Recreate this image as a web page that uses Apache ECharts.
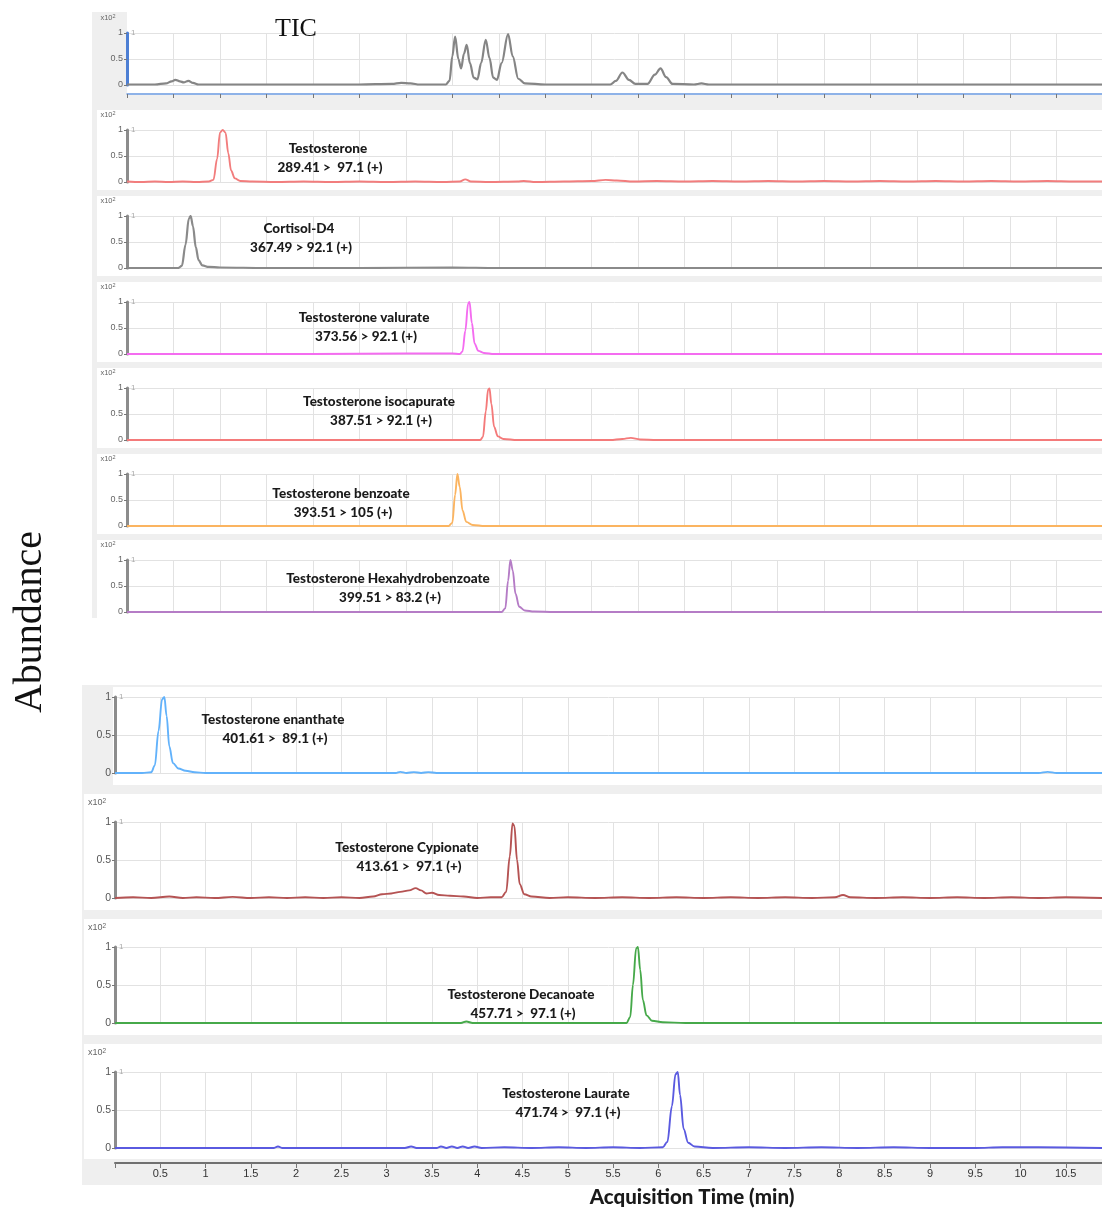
<!DOCTYPE html>
<html>
<head>
<meta charset="utf-8">
<script src="https://cdn.jsdelivr.net/npm/echarts@6/dist/echarts.min.js"></script>
<style>
html,body{margin:0;padding:0;background:#fff;}
#chart{width:1102px;height:1209px;}
</style>
</head>
<body>
<div id="chart"></div>
<script>
// ---------- DATA (time in min, abundance x10^2) ----------
const ticData = [[0,0.01],[0.3,0.01],[0.42,0.03],[0.48,0.07],[0.52,0.10],[0.57,0.07],[0.61,0.05],[0.66,0.08],[0.71,0.04],[0.77,0.01],[1.5,0.01],[2.5,0.01],[2.85,0.02],[2.95,0.04],[3.05,0.03],[3.15,0.01],[3.43,0.01],[3.47,0.08],[3.50,0.55],[3.53,0.93],[3.565,0.5],[3.595,0.32],[3.625,0.6],[3.655,0.77],[3.69,0.42],[3.73,0.14],[3.77,0.11],[3.81,0.42],[3.86,0.87],[3.90,0.52],[3.94,0.14],[3.98,0.10],[4.03,0.42],[4.10,0.98],[4.15,0.55],[4.21,0.12],[4.28,0.03],[4.5,0.01],[5.2,0.01],[5.26,0.08],[5.33,0.24],[5.40,0.10],[5.47,0.02],[5.6,0.02],[5.68,0.2],[5.74,0.32],[5.80,0.15],[5.87,0.02],[6.1,0.01],[6.18,0.03],[6.26,0.01],[8,0.01],[10.49,0.01]];
const testosteroneData = [[0,0.01],[0.15,0.0],[0.3,0.01],[0.45,0.0],[0.6,0.01],[0.75,0.0],[0.88,0.01],[0.93,0.04],[0.97,0.45],[1.00,0.95],[1.03,1.0],[1.06,0.95],[1.09,0.55],[1.12,0.22],[1.16,0.07],[1.22,0.02],[1.35,0.01],[1.6,0.0],[1.9,0.01],[2.2,0.0],[2.5,0.01],[2.8,0.0],[3.1,0.01],[3.4,0.0],[3.58,0.01],[3.64,0.05],[3.70,0.01],[3.9,0.0],[4.2,0.01],[4.27,0.02],[4.4,0.0],[4.7,0.01],[5.0,0.02],[5.15,0.04],[5.27,0.03],[5.45,0.01],[5.7,0.02],[6.0,0.01],[6.3,0.02],[6.6,0.01],[6.9,0.02],[7.2,0.01],[7.5,0.02],[7.8,0.01],[8.1,0.02],[8.4,0.01],[8.7,0.02],[9.0,0.01],[9.3,0.02],[9.6,0.01],[9.9,0.02],[10.2,0.01],[10.49,0.01]];
const cortisolData = [[0,0.0],[0.3,0.0],[0.55,0.0],[0.59,0.04],[0.63,0.45],[0.665,0.95],[0.685,1.0],[0.71,0.8],[0.74,0.4],[0.77,0.15],[0.81,0.05],[0.88,0.02],[1.0,0.01],[1.5,0.0],[2.5,0.0],[3.5,0.01],[4.0,0.0],[6.0,0.0],[8.0,0.0],[10.49,0.0]];
const valurateData = [[0,0],[2.0,0],[3.0,0.01],[3.5,0.01],[3.58,0.0],[3.61,0.05],[3.64,0.45],[3.67,0.97],[3.685,1.0],[3.71,0.6],[3.74,0.2],[3.78,0.06],[3.84,0.02],[3.95,0.0],[5,0],[7,0],[10.49,0]];
const isocapurateData = [[0,0],[2,0],[3.5,0],[3.80,0.0],[3.83,0.06],[3.86,0.55],[3.885,0.97],[3.90,0.99],[3.92,0.7],[3.95,0.25],[3.99,0.07],[4.05,0.02],[4.2,0.0],[5.2,0.0],[5.33,0.02],[5.42,0.04],[5.52,0.01],[5.7,0],[8,0],[10.49,0]];
const benzoateData = [[0,0],[3.0,0],[3.46,0.0],[3.50,0.06],[3.53,0.6],[3.555,1.0],[3.58,0.75],[3.61,0.3],[3.65,0.08],[3.72,0.02],[3.85,0.0],[10.49,0]];
const hexahydroData = [[0,0],[3,0],[4.03,0.0],[4.07,0.07],[4.10,0.6],[4.125,1.0],[4.15,0.8],[4.18,0.35],[4.22,0.1],[4.28,0.03],[4.38,0.01],[4.6,0],[10.49,0]];
const enanthateData = [[0,0],[0.3,0],[0.40,0.01],[0.44,0.1],[0.48,0.55],[0.52,0.97],[0.545,1.0],[0.57,0.75],[0.60,0.35],[0.64,0.13],[0.70,0.06],[0.78,0.03],[0.88,0.01],[1.0,0],[2.0,0],[3.1,0.0],[3.15,0.015],[3.22,0.0],[3.3,0.012],[3.38,0.0],[3.46,0.012],[3.55,0.0],[4.5,0],[6,0],[8,0],[10.2,0.0],[10.3,0.015],[10.4,0.0],[10.9,0]];
const cypionateData = [[0,0.0],[0.2,0.01],[0.4,0.0],[0.6,0.02],[0.75,0.0],[0.9,0.01],[1.1,0.0],[1.3,0.015],[1.5,0.0],[1.7,0.01],[1.9,0.0],[2.1,0.01],[2.3,0.0],[2.5,0.01],[2.7,0.0],[2.85,0.02],[2.95,0.05],[3.05,0.06],[3.15,0.08],[3.25,0.10],[3.32,0.13],[3.38,0.1],[3.44,0.06],[3.5,0.07],[3.58,0.04],[3.7,0.03],[3.85,0.02],[4.0,0.0],[4.15,0.01],[4.27,0.01],[4.32,0.08],[4.36,0.55],[4.39,0.98],[4.41,0.95],[4.44,0.5],[4.47,0.18],[4.52,0.05],[4.6,0.02],[4.8,0.0],[5.0,0.01],[5.3,0.0],[5.6,0.01],[5.9,0.0],[6.2,0.01],[6.5,0.0],[6.8,0.01],[7.1,0.0],[7.4,0.01],[7.7,0.0],[7.95,0.01],[8.04,0.04],[8.12,0.01],[8.4,0.0],[8.7,0.01],[9.0,0.0],[9.3,0.01],[9.6,0.0],[9.9,0.01],[10.2,0.0],[10.5,0.01],[10.9,0.0]];
const decanoateData = [[0,0],[3.0,0],[3.82,0.0],[3.88,0.02],[3.95,0.0],[5.0,0],[5.65,0.0],[5.69,0.08],[5.72,0.5],[5.755,0.98],[5.775,1.0],[5.80,0.7],[5.83,0.3],[5.87,0.1],[5.93,0.03],[6.05,0.01],[6.3,0],[10.9,0]];
const laurateData = [[0,0],[1.0,0],[1.75,0.0],[1.8,0.02],[1.85,0.0],[3.2,0.0],[3.27,0.02],[3.33,0.0],[3.55,0.0],[3.6,0.02],[3.66,0.0],[3.72,0.02],[3.78,0.0],[3.84,0.02],[3.9,0.0],[3.97,0.02],[4.05,0.0],[4.3,0.01],[4.6,0.0],[4.9,0.01],[5.2,0.0],[5.5,0.01],[5.8,0.0],[6.05,0.01],[6.10,0.08],[6.15,0.55],[6.19,0.97],[6.215,1.0],[6.24,0.7],[6.28,0.25],[6.33,0.07],[6.4,0.02],[6.6,0.0],[7.0,0.01],[7.4,0.0],[7.8,0.01],[8.2,0.0],[8.6,0.01],[9.0,0.0],[9.5,0.0],[9.8,0.01],[10.2,0.01],[10.9,0.0]];

const compoundNames = ['TIC','Testosterone','Cortisol-D4','Testosterone valurate','Testosterone isocapurate','Testosterone benzoate','Testosterone Hexahydrobenzoate','Testosterone enanthate','Testosterone Cypionate','Testosterone Decanoate','Testosterone Laurate'];
const transitions = ['','289.41 >  97.1 (+)','367.49 > 92.1 (+)','373.56 > 92.1 (+)','387.51 > 92.1 (+)','393.51 > 105 (+)','399.51 > 83.2 (+)','401.61 >  89.1 (+)','413.61 >  97.1 (+)','457.71 >  97.1 (+)','471.74 >  97.1 (+)'];
const seriesData = [ticData,testosteroneData,cortisolData,valurateData,isocapurateData,benzoateData,hexahydroData,enanthateData,cypionateData,decanoateData,laurateData];
const yTicks = [0, 0.5, 1];
const xTickStep = 0.5;
const xAxisTitle = 'Acquisition Time (min)';
const yAxisTitle = 'Abundance';

// ---------- LAYOUT / STYLE ----------
const colors = ['#858585','#f27d7d','#8a8a8a','#f46cf0','#f47a7a','#fbb460','#b57cc6','#62b2fb','#b55353','#46a94a','#5a5ae0'];
const panelTop = [33,130,216,302,388,474,560,697,822,947,1072];
const labelPos = [[296,29],[328,149],[299,229],[364,318],[379,402],[341,494],[388,579],[273,720],[407,848],[521,995],[566,1094]];
const TOP_N = 7;
const topMax = 10.49, botMax = 10.9;
const narrow = '"Liberation Sans Narrow","Liberation Sans",Arial,sans-serif';
const boldFont = 'Lato,"Open Sans",sans-serif';

const grids=[], xAxes=[], yAxes=[], series=[], graphics=[];

// backgrounds
graphics.push({type:'rect', z:-20, silent:true, shape:{x:92,y:12,width:1010,height:606}, style:{fill:'#efefef'}});
graphics.push({type:'rect', z:-20, silent:true, shape:{x:82,y:685,width:1020,height:500}, style:{fill:'#efefef'}});

for (let i=0;i<seriesData.length;i++){
  const top = i < TOP_N;
  const y1 = panelTop[i];
  const h = top ? 52 : 76;
  const left = top ? 127 : 115;
  const isLast = i === seriesData.length-1;
  grids.push({left:left, right:0, top:y1, height:h, containLabel:false});
  // white panel
  let wx = top ? 97 : 84, wy, wh;
  if (top) { if (i===0){ wx=127; wy=12; wh=81; } else { wy=y1-20; wh=h+28; } }
  else { if (i===TOP_N){ wx=113; wy=y1-10; wh=h+22; } else { wy=y1-28; wh = h+40; } }
  if (isLast) wh = (y1+h+11) - wy;
  graphics.push({type:'rect', z:-15, silent:true, shape:{x:wx,y:wy,width:1102-wx,height:wh}, style:{fill:'#ffffff'}});

  xAxes.push({
    gridIndex:i, type:'value', min:0, max: top?topMax:botMax, interval:xTickStep,
    offset: i===0 ? 9 : (isLast ? 15 : 0),
    axisLine:{show: i===0 || isLast, onZero:false, lineStyle:{color: i===0 ? '#6f9fe6' : '#707070', width: i===0 ? 1.5 : 2}},
    axisTick:{show: i===0 || isLast, length: i===0 ? 4 : 5, lineStyle:{color:'#777'}},
    axisLabel:{show:isLast, fontSize:11, color:'#333', fontFamily:narrow, margin:5, showMaxLabel:false,
      formatter: v => (v>0 && Math.abs(v/xTickStep - Math.round(v/xTickStep))<1e-6) ? String(+v.toFixed(1)) : ''},
    splitLine:{show:true, lineStyle:{color:'#e2e2e2', width:1}}
  });
  yAxes.push({
    gridIndex:i, type:'value', min:yTicks[0], max:yTicks[2], interval:0.5,
    axisLine:{show:true, onZero:false, lineStyle:{color: i===0 ? '#4d7fd4' : '#8c8c8c', width:3}},
    axisTick:{show:true, length:3, lineStyle:{color:'#777'}},
    axisLabel:{fontSize: top?9:10.5, color: top?'#666':'#555', margin:4, fontFamily:'"Liberation Sans",Arial,sans-serif',
      formatter: v => String(v)},
    splitLine:{show:true, lineStyle:{color:'#e2e2e2', width:1}}
  });
  series.push({
    type:'line', name:compoundNames[i], xAxisIndex:i, yAxisIndex:i, data:seriesData[i],
    showSymbol:false, smooth:0.35, smoothMonotone:'x', z:3,
    lineStyle:{color:colors[i], width: (i===0||i===2) ? 2.2 : 1.9}
  });

  // x10^2 label (not on the enanthate panel)
  if (i !== TOP_N) {
    const lx = top ? 108 : 97;
    graphics.push({type:'text', z:50, silent:true, x:lx, y:y1 - (top?15:19),
      style:{text:'{a|x10}{b|2}', align:'center', verticalAlign:'middle', textAlign:'center', textVerticalAlign:'middle',
        rich:{a:{fontSize: top?7.5:9, fill:'#666', fontFamily:narrow}, b:{fontSize: top?5.5:6.5, fill:'#666', verticalAlign:'top', padding:[0,0,4,0]}}}});
  }
  // small "1" right of axis
  graphics.push({type:'text', z:50, silent:true, x:left+4, y:y1,
    style:{text:'1', fontSize:8, fill:'#aaa', align:'left', verticalAlign:'middle', textAlign:'left', textVerticalAlign:'middle', fontFamily:narrow}});

  // compound labels
  const [cx, cy] = labelPos[i];
  if (i===0){
    graphics.push({type:'text', z:50, silent:true, x:cx, y:cy,
      style:{text:compoundNames[i], font:'26px "Liberation Serif","DejaVu Serif",serif', fill:'#111', align:'center', verticalAlign:'middle', textAlign:'center', textVerticalAlign:'middle'}});
  } else {
    graphics.push({type:'text', z:50, silent:true, x:cx, y:cy,
      style:{text:compoundNames[i], fontFamily:boldFont, fontWeight:900, fontSize:13.5, fill:'#1a1a1a', align:'center', verticalAlign:'middle', textAlign:'center', textVerticalAlign:'middle'}});
    graphics.push({type:'text', z:50, silent:true, x:cx+2, y:cy+19,
      style:{text:transitions[i], fontFamily:boldFont, fontWeight:900, fontSize:13.5, fill:'#1a1a1a', align:'center', verticalAlign:'middle', textAlign:'center', textVerticalAlign:'middle'}});
  }
}

// axis titles
graphics.push({type:'text', z:50, silent:true, x:692, y:1197,
  style:{text:xAxisTitle, fontFamily:boldFont, fontWeight:900, fontSize:20.5, fill:'#1a1a1a', align:'center', verticalAlign:'middle', textAlign:'center', textVerticalAlign:'middle'}});
graphics.push({type:'text', z:50, silent:true, x:30, y:622, rotation:Math.PI/2,
  style:{text:yAxisTitle, font:'40px "Liberation Serif","DejaVu Serif",serif', fill:'#111', align:'center', verticalAlign:'middle', textAlign:'center', textVerticalAlign:'middle'}});

const chart = echarts.init(document.getElementById('chart'), null, {renderer:'canvas'});
chart.setOption({
  animation:false,
  backgroundColor:'#ffffff',
  grid:grids, xAxis:xAxes, yAxis:yAxes, series:series,
  graphic:{elements:graphics}
});
</script>
</body>
</html>
